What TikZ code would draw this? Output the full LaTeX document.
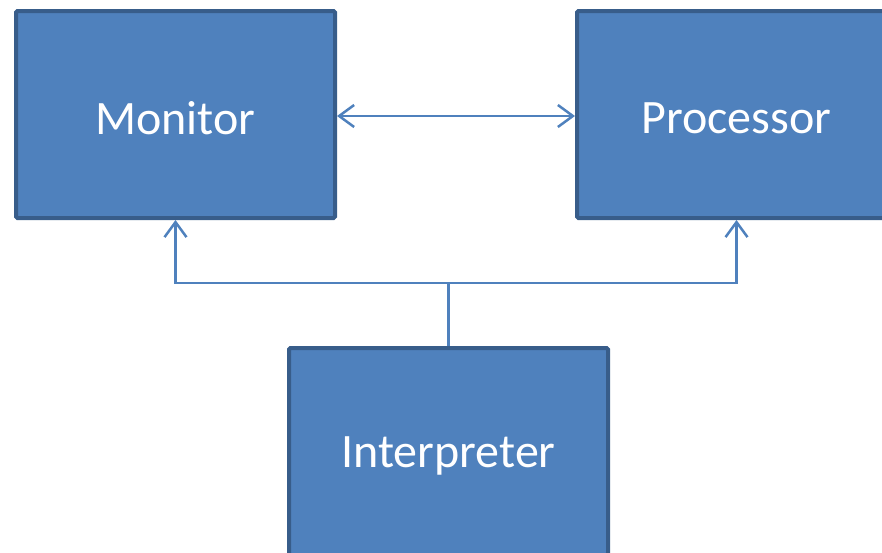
\documentclass[tikz,border=0pt]{standalone}
\usepackage{fontspec}
\setmainfont{Carlito}
\usetikzlibrary{arrows.meta}
\definecolor{boxfill}{HTML}{4F81BD}
\definecolor{boxline}{HTML}{385D8A}
\begin{document}
\begin{tikzpicture}[x=1pt,y=-1pt,
  blk/.style={draw=boxline, line width=4pt, fill=boxfill, rounded corners=1.5pt,
    minimum width=319pt, minimum height=207pt, inner sep=0pt,
    label={[text=white, font=\fontsize{48}{52}\selectfont, yshift=-4pt]center:#1}},
  link/.style={draw=boxfill, line width=2.5pt},
  barb/.tip={Straight Barb[length=15pt,width=22pt]}]
\clip (0,0) rectangle (882,552);
\node[blk=Monitor] (mon) at (175.5,114.5) {};
\node[blk=Processor] (proc) at (736.5,114.5) {};
\node[blk=Interpreter] (interp) at (448.5,451.5) {};
\coordinate (j) at (448.5,283);
\draw[link, barb-barb] ([yshift=-1.5pt]mon.east) -- ([yshift=-1.5pt]proc.west);
\draw[link, -barb] (interp.north) -- (j) -| (mon.south);
\draw[link, -barb] (j) -| (proc.south);
\end{tikzpicture}
\end{document}
